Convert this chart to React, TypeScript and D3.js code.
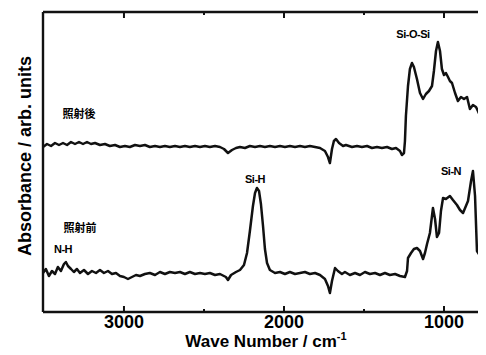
import React, { useEffect, useRef } from 'react';
import * as d3 from 'd3';

// FT-IR spectra: wavenumber (cm-1) and absorbance (arb. units)
const beforeWn = [3506, 3488, 3469, 3450, 3431, 3413, 3394, 3375, 3363, 3350, 3331, 3313, 3294, 3275, 3250, 3225, 3200, 3175, 3150, 3125, 3100, 3075, 3050, 3025, 3000, 2975, 2950, 2925, 2900, 2869, 2838, 2806, 2775, 2744, 2713, 2681, 2650, 2619, 2588, 2556, 2525, 2494, 2463, 2431, 2400, 2363, 2350, 2331, 2300, 2275, 2250, 2231, 2213, 2194, 2181, 2169, 2156, 2144, 2131, 2119, 2106, 2088, 2056, 2025, 1994, 1963, 1931, 1900, 1869, 1838, 1806, 1775, 1744, 1725, 1713, 1700, 1681, 1663, 1638, 1619, 1588, 1556, 1525, 1494, 1463, 1431, 1400, 1369, 1338, 1306, 1275, 1244, 1231, 1225, 1206, 1188, 1169, 1150, 1131, 1119, 1106, 1088, 1069, 1056, 1044, 1031, 1019, 1006, 988, 963, 944, 919, 900, 881, 863, 850, 831, 819, 806, 794, 775, 763, 750, 738, 713];
const beforeAbs = [0.39, 0.43, 0.36, 0.41, 0.38, 0.45, 0.41, 0.48, 0.50, 0.46, 0.43, 0.40, 0.43, 0.39, 0.42, 0.38, 0.41, 0.39, 0.42, 0.39, 0.41, 0.38, 0.39, 0.36, 0.35, 0.33, 0.35, 0.37, 0.36, 0.38, 0.39, 0.37, 0.40, 0.38, 0.40, 0.39, 0.40, 0.38, 0.40, 0.38, 0.39, 0.38, 0.39, 0.37, 0.38, 0.35, 0.32, 0.37, 0.40, 0.42, 0.47, 0.59, 0.81, 1.06, 1.19, 1.24, 1.21, 1.08, 0.86, 0.63, 0.49, 0.42, 0.39, 0.40, 0.38, 0.40, 0.38, 0.39, 0.40, 0.38, 0.39, 0.37, 0.33, 0.26, 0.19, 0.31, 0.44, 0.41, 0.38, 0.40, 0.37, 0.39, 0.37, 0.40, 0.38, 0.39, 0.37, 0.39, 0.37, 0.38, 0.36, 0.35, 0.41, 0.54, 0.59, 0.63, 0.64, 0.61, 0.53, 0.59, 0.68, 0.79, 1.04, 0.93, 0.75, 0.79, 1.01, 1.14, 1.13, 1.16, 1.12, 1.07, 1.02, 0.99, 1.06, 1.11, 1.31, 1.41, 1.16, 0.61, 0.56, 0.53, 0.46, 0.34, 0.21];

const afterWn = [3506, 3481, 3456, 3431, 3406, 3381, 3356, 3331, 3306, 3281, 3256, 3231, 3206, 3181, 3150, 3119, 3088, 3056, 3025, 2994, 2963, 2931, 2900, 2869, 2838, 2806, 2775, 2744, 2713, 2681, 2650, 2619, 2588, 2556, 2525, 2494, 2463, 2431, 2400, 2375, 2350, 2325, 2300, 2275, 2244, 2213, 2181, 2150, 2119, 2088, 2056, 2025, 1994, 1963, 1931, 1900, 1869, 1838, 1806, 1775, 1744, 1725, 1713, 1700, 1688, 1675, 1656, 1631, 1613, 1575, 1544, 1513, 1481, 1450, 1419, 1388, 1356, 1325, 1300, 1275, 1263, 1250, 1244, 1238, 1225, 1213, 1200, 1188, 1169, 1150, 1131, 1113, 1094, 1075, 1063, 1050, 1038, 1025, 1013, 1000, 988, 975, 963, 950, 931, 913, 894, 875, 856, 838, 819, 800, 788, 769, 750, 738, 713];
const afterAbs = [1.65, 1.68, 1.66, 1.69, 1.67, 1.69, 1.67, 1.70, 1.68, 1.70, 1.68, 1.70, 1.68, 1.69, 1.67, 1.68, 1.66, 1.67, 1.65, 1.66, 1.65, 1.67, 1.66, 1.67, 1.65, 1.66, 1.65, 1.66, 1.65, 1.66, 1.65, 1.66, 1.65, 1.66, 1.65, 1.66, 1.65, 1.66, 1.65, 1.63, 1.59, 1.62, 1.64, 1.65, 1.64, 1.66, 1.65, 1.66, 1.65, 1.66, 1.65, 1.66, 1.65, 1.66, 1.65, 1.66, 1.65, 1.66, 1.65, 1.64, 1.61, 1.55, 1.49, 1.63, 1.71, 1.73, 1.69, 1.66, 1.67, 1.65, 1.66, 1.65, 1.66, 1.64, 1.65, 1.64, 1.65, 1.63, 1.64, 1.61, 1.57, 1.59, 1.71, 1.96, 2.26, 2.43, 2.49, 2.45, 2.33, 2.19, 2.13, 2.18, 2.21, 2.26, 2.41, 2.61, 2.70, 2.61, 2.43, 2.37, 2.39, 2.35, 2.31, 2.29, 2.19, 2.11, 2.15, 2.13, 2.15, 2.03, 2.07, 2.05, 2.01, 1.94, 1.87, 1.79, 1.66];

const majorTicks = [3000, 2000, 1000];
const minorTicks = [2500, 1500];

const peakLabels = [
  { text: 'Si-O-Si', wn: 1194, a: 2.74 },
  { text: 'Si-H', wn: 2181, a: 1.29 },
  { text: 'Si-N', wn: 956, a: 1.37 },
  { text: 'N-H', wn: 3381, a: 0.59 },
];
const sampleLabels = [
  { text: '照射後', wn: 3281, a: 1.94 },
  { text: '照射前', wn: 3275, a: 0.80 },
];

const W = 486;
const H = 355;

export default function App() {
  const ref = useRef<SVGSVGElement>(null);

  useEffect(() => {
    const svg = d3.select(ref.current);
    svg.selectAll('*').remove();

    const x = d3.scaleLinear().domain([3506, 700]).range([43, 492]);
    const y = d3.scaleLinear().domain([0, 3]).range([312, 12]);
    const latin = 'Liberation Sans, Arial, Helvetica, sans-serif';

    const line = d3.line<[number, number]>()
      .x(d => x(d[0]))
      .y(d => y(d[1]));

    const series = [
      d3.zip(beforeWn, beforeAbs) as [number, number][],
      d3.zip(afterWn, afterAbs) as [number, number][],
    ];

    svg.selectAll('path.spec')
      .data(series)
      .enter()
      .append('path')
      .attr('class', 'spec')
      .attr('d', d => line(d))
      .attr('fill', 'none')
      .attr('stroke', '#111')
      .attr('stroke-width', 2.5)
      .attr('stroke-linejoin', 'round');

    // frame (right side is cut off)
    const frame = svg.append('g').attr('stroke', '#111').attr('stroke-width', 2.4).attr('fill', 'none');
    frame.append('line').attr('x1', x(3506)).attr('x2', W).attr('y1', y(3)).attr('y2', y(3));
    frame.append('line').attr('x1', x(3506)).attr('x2', W).attr('y1', y(0)).attr('y2', y(0));
    frame.append('line').attr('x1', x(3506)).attr('x2', x(3506)).attr('y1', y(3)).attr('y2', y(0));

    // inward ticks on top and bottom
    const tickG = svg.append('g').attr('stroke', '#111').attr('stroke-width', 2);
    majorTicks.forEach(t => {
      tickG.append('line').attr('x1', x(t)).attr('x2', x(t)).attr('y1', y(0)).attr('y2', y(0) - 6);
      tickG.append('line').attr('x1', x(t)).attr('x2', x(t)).attr('y1', y(3)).attr('y2', y(3) + 6);
    });
    minorTicks.forEach(t => {
      tickG.append('line').attr('x1', x(t)).attr('x2', x(t)).attr('y1', y(0)).attr('y2', y(0) - 3);
      tickG.append('line').attr('x1', x(t)).attr('x2', x(t)).attr('y1', y(3)).attr('y2', y(3) + 3);
    });

    svg.selectAll('text.tick')
      .data(majorTicks)
      .enter()
      .append('text')
      .attr('class', 'tick')
      .attr('x', d => x(d))
      .attr('y', 328)
      .attr('text-anchor', 'middle')
      .attr('font-family', latin)
      .attr('font-weight', 'bold')
      .attr('font-size', 18)
      .text(d => d);

    const xl = svg.append('text')
      .attr('x', 266)
      .attr('y', 347)
      .attr('text-anchor', 'middle')
      .attr('font-family', latin)
      .attr('font-weight', 'bold')
      .attr('font-size', 17);
    xl.append('tspan').text('Wave Number / cm');
    xl.append('tspan').attr('dy', -7).attr('font-size', 11).text('-1');

    svg.append('text')
      .attr('transform', 'translate(31,156) rotate(-90)')
      .attr('text-anchor', 'middle')
      .attr('font-family', latin)
      .attr('font-weight', 'bold')
      .attr('font-size', 18)
      .text('Absorbance / arb. units');

    svg.selectAll('text.peak')
      .data(peakLabels)
      .enter()
      .append('text')
      .attr('class', 'peak')
      .attr('x', d => x(d.wn))
      .attr('y', d => y(d.a))
      .attr('text-anchor', 'middle')
      .attr('font-family', latin)
      .attr('font-weight', 'bold')
      .attr('font-size', 11)
      .attr('letter-spacing', -0.5)
      .text(d => d.text);

    svg.selectAll('text.sample')
      .data(sampleLabels)
      .enter()
      .append('text')
      .attr('class', 'sample')
      .attr('x', d => x(d.wn))
      .attr('y', d => y(d.a))
      .attr('text-anchor', 'middle')
      .attr('font-family', 'Noto Sans CJK JP, sans-serif')
      .attr('font-weight', 'bold')
      .attr('font-size', 11)
      .text(d => d.text);
  }, []);

  return (
    <div style={{ margin: -8, width: W, height: H, background: '#fff', overflow: 'hidden' }}>
      <svg ref={ref} width={W} height={H} viewBox={`0 0 ${W} ${H}`} style={{ display: 'block' }} />
    </div>
  );
}
